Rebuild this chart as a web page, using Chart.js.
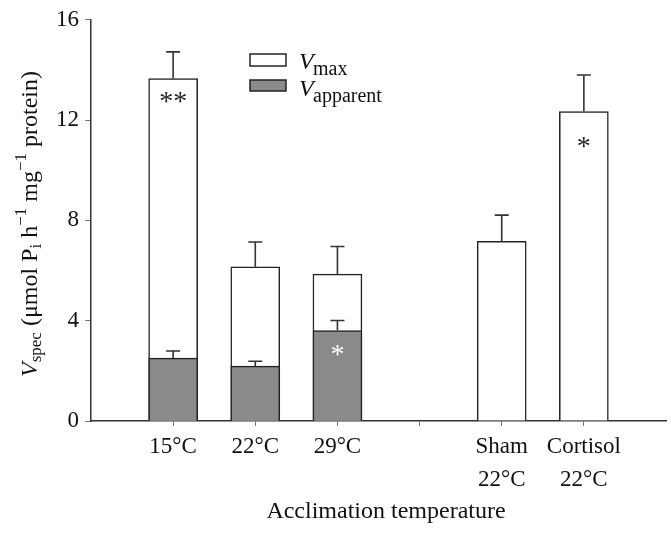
<!DOCTYPE html>
<html><head><meta charset="utf-8">
<script src="https://cdn.jsdelivr.net/npm/chart.js@4"></script>
<style>html,body{margin:0;padding:0;background:#fff}#wrap{width:671px;height:535px;position:relative}</style>
</head><body><div id="wrap"><canvas id="c"></canvas></div>
<script>
const positions = [1, 2, 3, 5, 6];
const tickPositions = [1, 2, 3, 4, 5, 6];
const tickLabels = ['15°C', '22°C', '29°C', '', ['Sham', '22°C'], ['Cortisol', '22°C']];
const vmaxValues = [13.66, 6.15, 5.86, 7.17, 12.34];
const vmaxErrTop = [14.72, 7.14, 6.96, 8.21, 13.80];
const vappPositions = [1, 2, 3];
const vappValues = [2.51, 2.19, 3.61];
const vappErrTop = [2.79, 2.38, 4.01];
const yTicks = [0, 4, 8, 12, 16];
const marks = [
  {ds: 0, i: 0, text: '**', val: 12.7, color: '#222'},
  {ds: 0, i: 4, text: '*', val: 10.9, color: '#222'},
  {ds: 1, i: 2, text: '*', val: 2.6, color: '#fff'}
];
const SERIF = '"Liberation Serif", "DejaVu Serif", serif';

const errPlugin = {
  id: 'err',
  afterDatasetsDraw(chart) {
    const ctx = chart.ctx, y = chart.scales.y;
    const sets = [vmaxErrTop, vappErrTop];
    ctx.save();
    ctx.strokeStyle = '#333'; ctx.lineWidth = 1.6;
    sets.forEach((errs, d) => {
      const meta = chart.getDatasetMeta(d);
      meta.data.forEach((bar, i) => {
        const yt = y.getPixelForValue(errs[i]);
        ctx.beginPath();
        ctx.moveTo(bar.x, bar.y); ctx.lineTo(bar.x, yt);
        ctx.moveTo(bar.x - 7, yt); ctx.lineTo(bar.x + 7, yt);
        ctx.stroke();
      });
    });
    ctx.font = '28px ' + SERIF; ctx.textAlign = 'center'; ctx.textBaseline = 'middle';
    marks.forEach(m => {
      const bar = chart.getDatasetMeta(m.ds).data[m.i];
      ctx.fillStyle = m.color;
      ctx.fillText(m.text, bar.x, y.getPixelForValue(m.val));
    });
    ctx.restore();
  },
  afterDraw(chart) {
    const ctx = chart.ctx;
    ctx.save();
    ctx.lineWidth = 1.5; ctx.strokeStyle = '#222';
    ctx.fillStyle = '#fff';
    ctx.fillRect(250, 54, 36, 12); ctx.strokeRect(250, 54, 36, 12);
    ctx.fillStyle = '#8a8a8a';
    ctx.fillRect(250, 80, 36, 11); ctx.strokeRect(250, 80, 36, 11);
    ctx.fillStyle = '#111'; ctx.textBaseline = 'alphabetic'; ctx.textAlign = 'left';
    ctx.font = 'italic 24px ' + SERIF;
    ctx.fillText('V', 299, 69);
    ctx.fillText('V', 299, 96);
    ctx.font = '20px ' + SERIF;
    ctx.fillText('max', 313, 75);
    ctx.fillText('apparent', 313, 102);
    ctx.translate(29, 224); ctx.rotate(-Math.PI / 2);
    const parts = [
      ['V', 'italic 24px', 0], ['spec', '17px', 6], [' (μmol P', '24px', 0], ['i', '17px', 6],
      [' h', '24px', 0], ['−1', '17px', -9], [' mg', '24px', 0], ['−1', '17px', -9], [' protein)', '24px', 0]
    ];
    let w = 0;
    parts.forEach(p => { ctx.font = p[1] + ' ' + SERIF; w += ctx.measureText(p[0]).width; });
    let x = -w / 2;
    ctx.textBaseline = 'middle';
    parts.forEach(p => { ctx.font = p[1] + ' ' + SERIF; ctx.fillText(p[0], x, p[2] + 2); x += ctx.measureText(p[0]).width; });
    ctx.restore();
    ctx.save();
    ctx.font = '24px ' + SERIF; ctx.fillStyle = '#111'; ctx.textAlign = 'center'; ctx.textBaseline = 'middle';
    ctx.fillText('Acclimation temperature', 386, 512);
    ctx.restore();
  }
};

new Chart(document.getElementById('c'), {
  type: 'bar',
  data: {
    datasets: [
      {label: 'Vmax', data: positions.map((p, i) => ({x: p, y: vmaxValues[i]})),
       backgroundColor: '#fff', borderColor: '#222', borderWidth: 1.5, order: 1, grouped: false, barThickness: 49},
      {label: 'Vapparent', data: vappPositions.map((p, i) => ({x: p, y: vappValues[i]})),
       backgroundColor: '#8a8a8a', borderColor: '#222', borderWidth: 1.5, order: 0, grouped: false, barThickness: 49}
    ]
  },
  options: {
    responsive: true, maintainAspectRatio: false, animation: false,
    layout: {padding: {top: 18, right: 5, left: 0, bottom: 0}},
    plugins: {legend: {display: false}, tooltip: {enabled: false}},
    scales: {
      x: {
        type: 'linear', min: 0, max: 7, offset: false,
        afterBuildTicks: s => { s.ticks = tickPositions.map(v => ({value: v})); },
        afterFit: s => { s.height = 114; },
        grid: {display: true, offset: false, drawOnChartArea: false, drawTicks: true, tickLength: 5, color: '#777'},
        border: {display: true, color: '#333', width: 1.5},
        ticks: {
          callback: (v) => { const i = tickPositions.indexOf(v); return i >= 0 ? tickLabels[i] : ''; },
          font: {family: SERIF, size: 23, lineHeight: 1.45}, color: '#111', padding: 4, maxRotation: 0, autoSkip: false
        }
      },
      y: {
        min: 0, max: 16,
        afterBuildTicks: s => { s.ticks = yTicks.map(v => ({value: v})); },
        afterFit: s => { s.width = 91; },
        grid: {display: true, drawOnChartArea: false, drawTicks: true, tickLength: 6, color: '#777'},
        border: {display: true, color: '#333', width: 1.5},
        ticks: {font: {family: SERIF, size: 23}, color: '#111', padding: 6}
      }
    }
  },
  plugins: [errPlugin]
});
</script></body></html>
